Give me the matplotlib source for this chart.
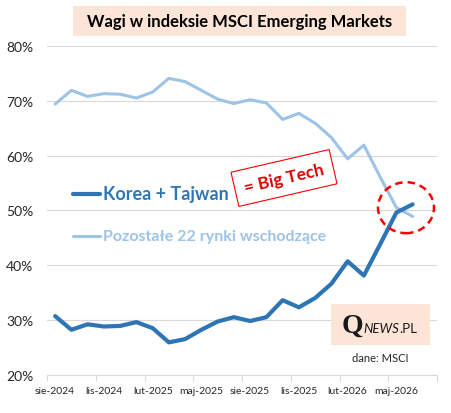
import numpy as np
import matplotlib.pyplot as plt
from matplotlib.patches import Rectangle, Ellipse

# dane (udzial w indeksie MSCI EM, %)
miesiace = ['sie-2024', 'wrz-2024', 'paź-2024', 'lis-2024', 'gru-2024', 'sty-2025',
            'lut-2025', 'mar-2025', 'kwi-2025', 'maj-2025', 'cze-2025', 'lip-2025',
            'sie-2025', 'wrz-2025', 'paź-2025', 'lis-2025', 'gru-2025', 'sty-2026',
            'lut-2026', 'mar-2026', 'kwi-2026', 'maj-2026', 'cze-2026', 'lip-2026']
korea_tajwan = [30.7, 28.2, 29.2, 28.8, 28.9, 29.6, 28.5, 25.9, 26.5, 28.2, 29.7, 30.5,
                29.8, 30.5, 33.6, 32.3, 34.0, 36.6, 40.7, 38.1, 43.8, 49.6, 51.1, np.nan]
pozostale = [69.4, 71.9, 70.8, 71.3, 71.2, 70.5, 71.6, 74.1, 73.5, 71.9, 70.3, 69.5,
             70.2, 69.6, 66.6, 67.7, 65.9, 63.3, 59.4, 61.9, 56.1, 50.5, 48.9, np.nan]
nazwy = ['Korea + Tajwan', 'Pozostałe 22 rynki wschodzące']
etykiety_x = miesiace[::3]

ciemny = '#2E75B6'
jasny = '#9DC3E6'
brzoskwinia = '#FCE4D6'

plt.rcParams['font.family'] = ['Lato', 'DejaVu Sans']

fig = plt.figure(figsize=(4.51, 4.14), dpi=100)
ax = fig.add_axes([47 / 451, 38.3 / 414, 390 / 451, 328.7 / 414])

x = np.arange(len(miesiace))
ax.plot(x, pozostale, color=jasny, lw=2.2, solid_joinstyle='round', solid_capstyle='round')
ax.plot(x, korea_tajwan, color=ciemny, lw=3.0, solid_joinstyle='round', solid_capstyle='round')

ax.set_xlim(-0.5, len(miesiace) - 0.5)
ax.set_ylim(20, 80)
ax.set_yticks(np.arange(20, 81, 10))
ax.set_yticklabels([f'{v}%' for v in range(20, 81, 10)], fontsize=10, color='#262626')
ax.set_xticks(x[::3])
ax.set_xticklabels(etykiety_x, fontsize=7.5, color='#262626')
ax.set_xticks(np.arange(-0.5, len(miesiace), 3), minor=True)
ax.tick_params(axis='x', which='major', length=0, pad=8)
ax.tick_params(axis='x', which='minor', length=4, color='#D9D9D9', width=0.8)
ax.tick_params(axis='y', length=0, pad=10)
ax.grid(axis='y', color='#D9D9D9', lw=0.8)
ax.set_axisbelow(True)
for s in ['top', 'right', 'left']:
    ax.spines[s].set_visible(False)
ax.spines['bottom'].set_color('#D9D9D9')
ax.spines['bottom'].set_linewidth(0.8)

# legenda
ax.plot([0.067, 0.136], [0.55, 0.55], transform=ax.transAxes, color=ciemny, lw=3.0,
        solid_capstyle='round')
ax.text(0.143, 0.55, nazwy[0], transform=ax.transAxes, color=ciemny, fontsize=13,
        fontweight='bold', va='center', ha='left')
ax.plot([0.067, 0.136], [0.422, 0.422], transform=ax.transAxes, color=jasny, lw=2.2,
        solid_capstyle='round')
ax.text(0.143, 0.422, nazwy[1], transform=ax.transAxes, color=jasny, fontsize=11.5,
        fontweight='bold', va='center', ha='left')

# tytul
fig.add_artist(Rectangle((73 / 451, 1 - 37 / 414), 333 / 451, 30 / 414,
                         transform=fig.transFigure, facecolor=brzoskwinia, edgecolor='none'))
fig.text(240 / 451, 1 - 22 / 414, 'Wagi w indeksie MSCI Emerging Markets', fontsize=12,
         fontweight='bold', ha='center', va='center', color='black')

# = Big Tech
fig.text(284 / 451, 1 - 179 / 414, '= Big Tech', fontsize=12.5, fontweight='bold', color='#E00000',
         ha='center', va='center', rotation=13, zorder=6,
         bbox=dict(boxstyle='square,pad=0.55', facecolor='white', edgecolor='red', lw=0.8))

# kolko
ax.add_patch(Ellipse((359 / 390, (375.7 - 208.7) / 328.7), 56 / 390, 51 / 328.7,
                     transform=ax.transAxes, fill=False, edgecolor='red', lw=1.8,
                     linestyle=(0, (3, 2)), zorder=5))

# logo
fig.add_artist(Rectangle((331 / 451, 1 - 346 / 414), 99 / 451, 41 / 414,
                         transform=fig.transFigure, facecolor=brzoskwinia, edgecolor='none'))
fig.text(342 / 451, 1 - 333 / 414, 'Q', fontsize=20, fontweight='bold', family='Liberation Serif',
         ha='left', va='baseline', color='#1a1a1a')
fig.text(363 / 451, 1 - 333 / 414, 'NEWS', fontsize=9.5, style='italic', ha='left',
         va='baseline', color='#1a1a1a')
fig.text(399 / 451, 1 - 333 / 414, '.PL', fontsize=9.5, ha='left', va='baseline', color='#1a1a1a')
fig.text(380 / 451, 1 - 359 / 414, 'dane: MSCI', fontsize=8, ha='center', va='center',
         color='#262626')

fig.savefig('out.png', dpi=100)
